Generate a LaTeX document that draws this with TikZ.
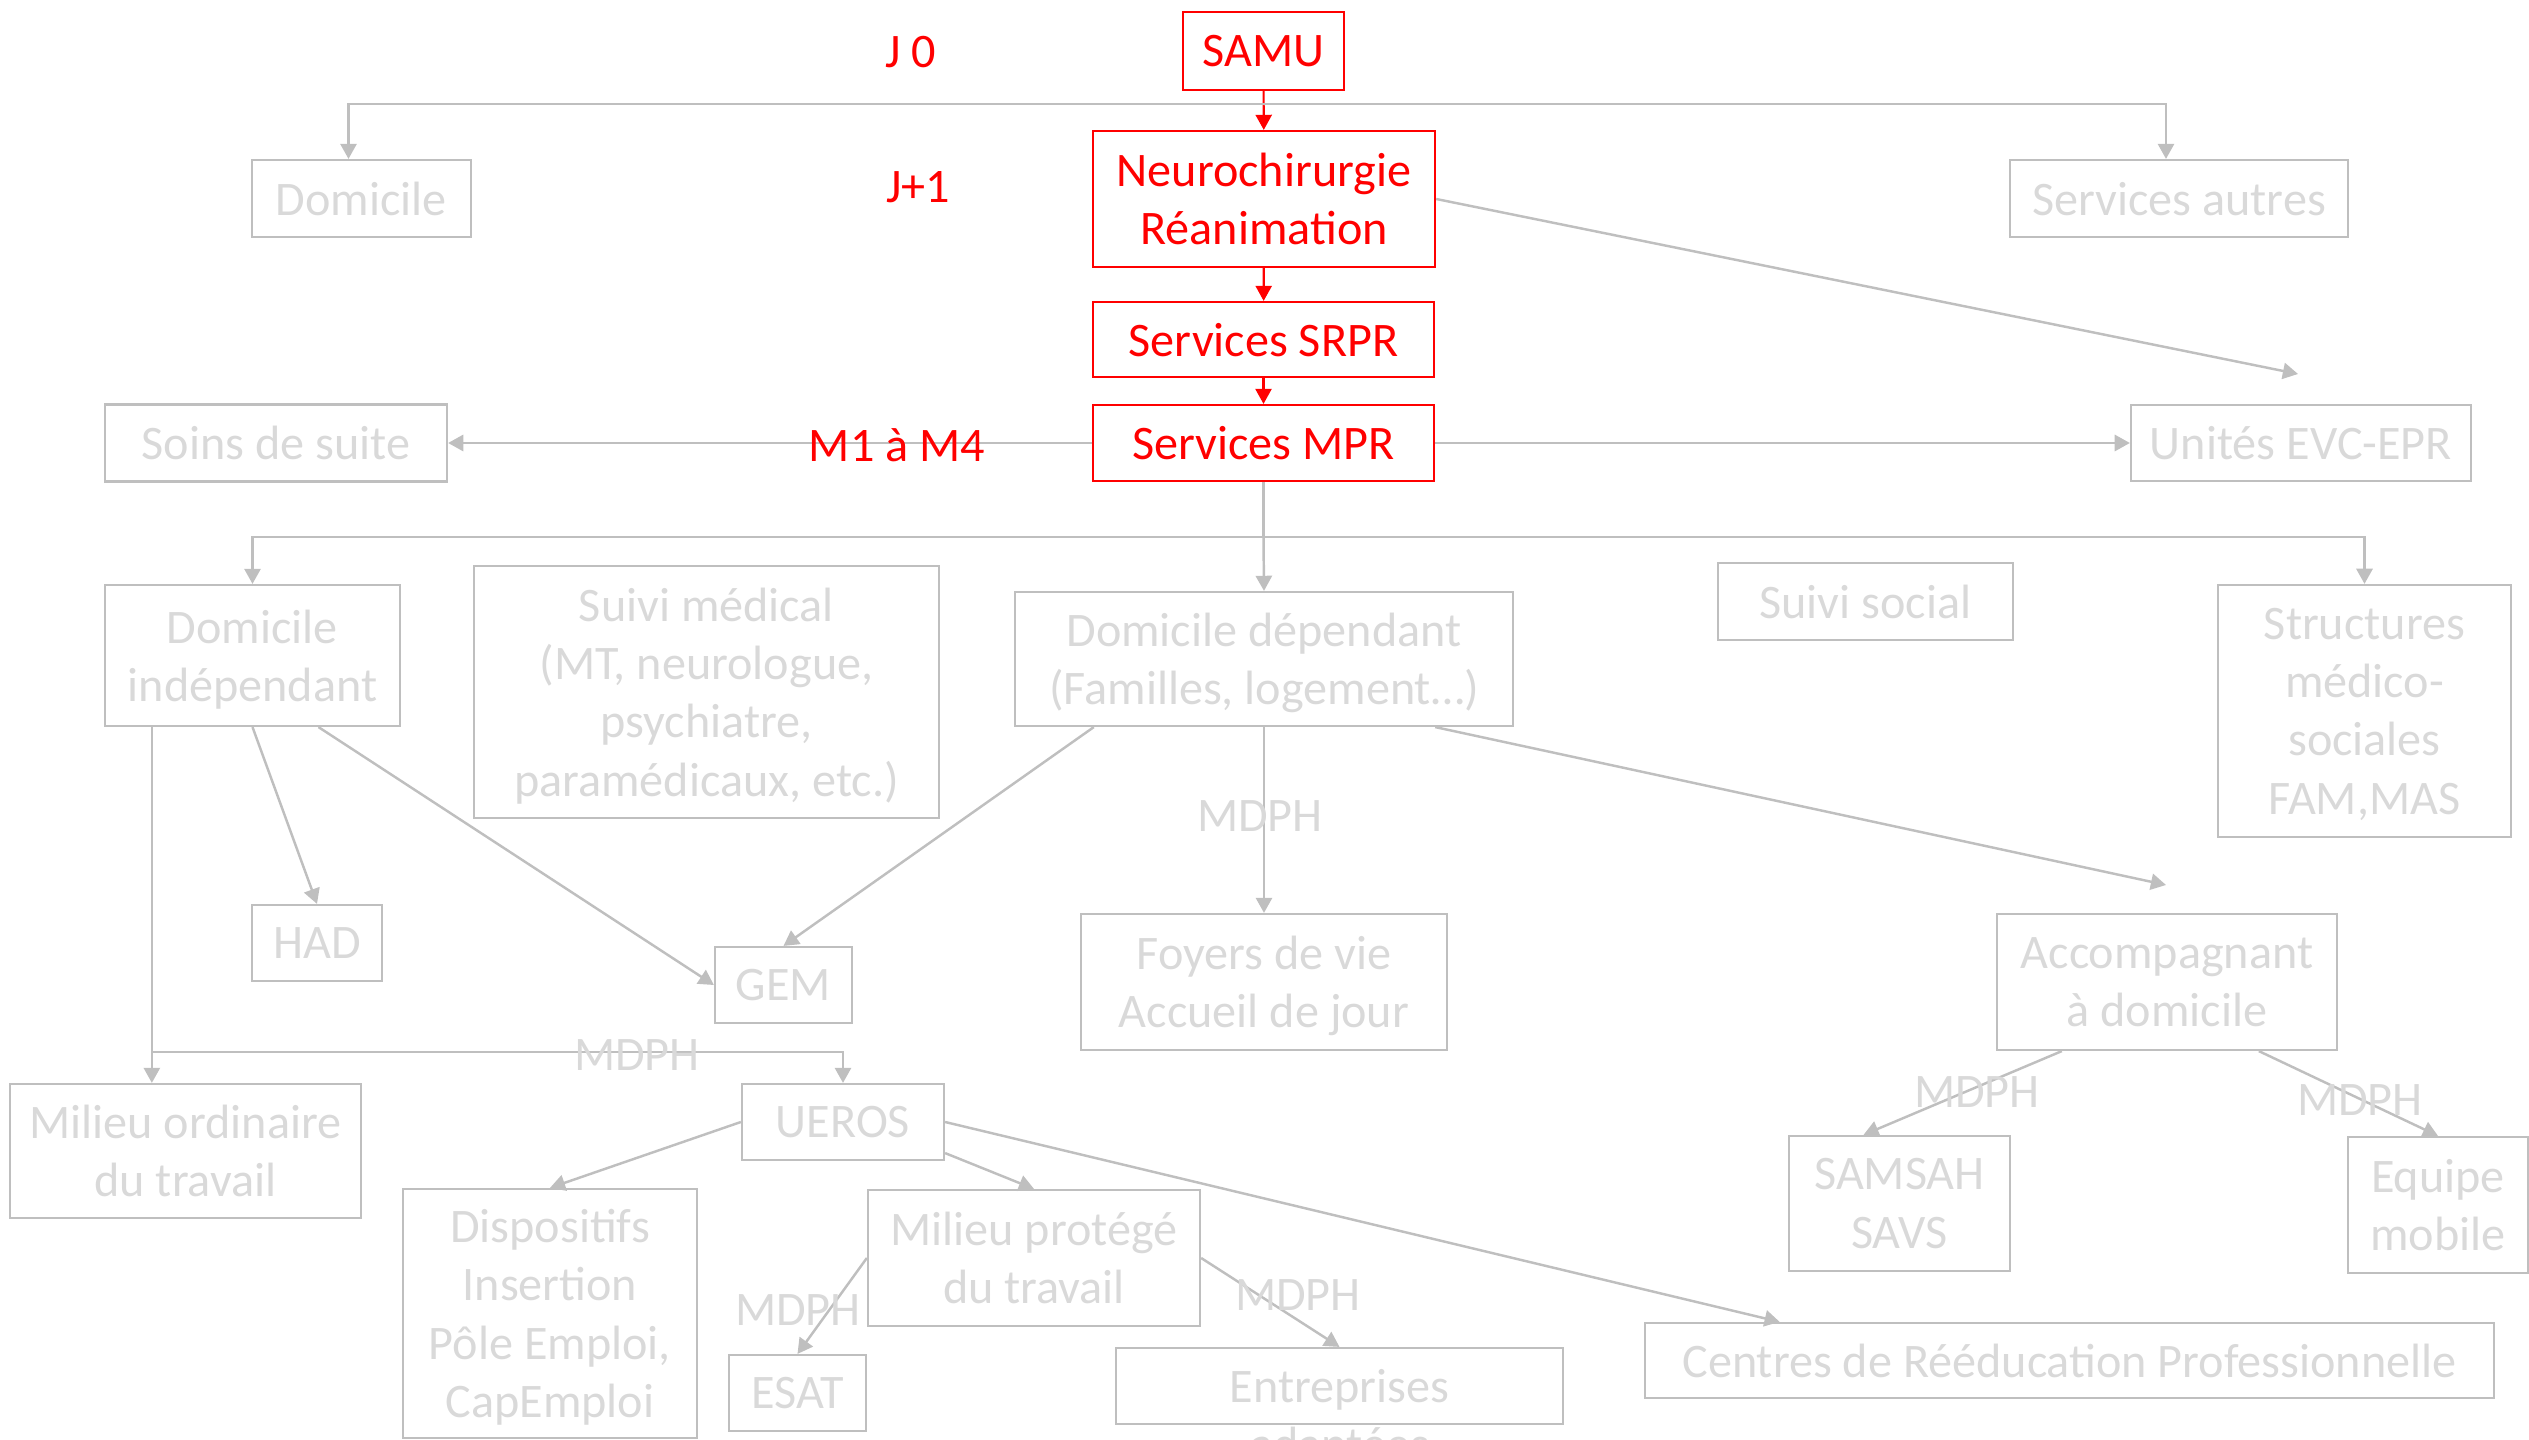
\documentclass[tikz,border=0pt]{standalone}
\usepackage{fontspec}
\setmainfont{Carlito}
\usetikzlibrary{arrows.meta,calc}
\definecolor{boxgray}{HTML}{BFBFBF}
\definecolor{txtgray}{HTML}{D9D9D9}
\definecolor{redtxt}{HTML}{FF0000}

\begin{document}
\begin{tikzpicture}[x=0.01cm, y=-0.01cm,
    every node/.style={font=\fontsize{13.7}{16.6}\selectfont, align=center, inner sep=0pt},
    rbox/.style={draw=redtxt, line width=0.6pt, text=redtxt, text depth=0pt},
    gbox/.style={draw=boxgray, line width=0.6pt, text=txtgray, text depth=0pt},
    rlab/.style={text=redtxt},
    glab/.style={text=txtgray},
    rarr/.style={redtxt, line width=0.6pt, -{Triangle[length=4.3pt,width=4.6pt]}},
    garr/.style={boxgray, line width=0.7pt, -{Triangle[length=4.3pt,width=4.6pt]}},
    gline/.style={boxgray, line width=0.7pt}]
  \useasboundingbox (0,0) rectangle (2529,1440);

  % acute care (red)
  \node[rbox, minimum width=1.61cm, minimum height=0.78cm] (samu) at (1263.5,51) {SAMU};
  \node[rbox, minimum width=3.42cm, minimum height=1.36cm] (neuro) at (1264,199) {Neurochirurgie\\Réanimation};
  \node[rbox, minimum width=3.41cm, minimum height=0.75cm] (srpr) at (1263.5,339.5) {Services SRPR};
  \node[rbox, minimum width=3.41cm, minimum height=0.76cm] (mpr) at (1263.5,443) {Services MPR};

  % gray boxes
  \node[gbox, minimum width=2.19cm, minimum height=0.77cm] (domicile) at (361.5,198.5) {Domicile};
  \node[gbox, minimum width=3.38cm, minimum height=0.77cm] (autres) at (2179,198.5) {Services autres};
  \node[gbox, minimum width=3.42cm, minimum height=0.77cm] (soins) at (276,443) {Soins de suite};
  \node[gbox, minimum width=3.40cm, minimum height=0.76cm] (evc) at (2301,443) {Unités EVC-EPR};
  \node[gbox, minimum width=2.95cm, minimum height=1.41cm] (domind) at (252.5,655.5) {Domicile\\indépendant};
  \node[gbox, minimum width=4.65cm, minimum height=2.52cm] (suivimed) at (706.5,692) {Suivi médical\\(MT, neurologue,\\psychiatre,\\paramédicaux, etc.)};
  \node[gbox, minimum width=4.98cm, minimum height=1.34cm] (domdep) at (1264,659) {Domicile dépendant\\(Familles, logement…)};
  \node[gbox, minimum width=2.95cm, minimum height=0.77cm] (social) at (1865.5,601.5) {Suivi social};
  \node[gbox, minimum width=2.93cm, minimum height=2.52cm] (structures) at (2364.5,711) {Structures\\médico-\\sociales\\FAM,MAS};
  \node[gbox, minimum width=1.30cm, minimum height=0.76cm] (had) at (317,943) {HAD};
  \node[gbox, minimum width=1.37cm, minimum height=0.76cm] (gem) at (783.5,985) {GEM};
  \node[gbox, minimum width=3.66cm, minimum height=1.36cm] (foyers) at (1264,982) {Foyers de vie\\Accueil de jour};
  \node[gbox, minimum width=3.40cm, minimum height=1.36cm] (accomp) at (2167,982) {Accompagnant\\à domicile};
  \node[gbox, minimum width=3.51cm, minimum height=1.34cm] (milord) at (185.5,1151) {Milieu ordinaire\\du travail};
  \node[gbox, minimum width=2.02cm, minimum height=0.76cm] (ueros) at (843,1122) {UEROS};
  \node[gbox, minimum width=2.94cm, minimum height=2.49cm] (dispo) at (550,1313.5) {Dispositifs\\Insertion\\Pôle Emploi,\\CapEmploi};
  \node[gbox, minimum width=3.32cm, minimum height=1.36cm] (milprot) at (1034,1258) {Milieu protégé\\du travail};
  \node[gbox, minimum width=1.37cm, minimum height=0.76cm] (esat) at (797.5,1393) {ESAT};
  \node[gbox, minimum width=4.47cm, minimum height=0.76cm] (entr) at (1339.5,1386) {Entreprises};
  \node[glab, anchor=base] (entr2) at ($(entr.base)+(0,58)$) {adaptées};
  \node[gbox, minimum width=8.49cm, minimum height=0.75cm] (centres) at (2069.5,1360.5) {Centres de Rééducation Professionnelle};
  \node[gbox, minimum width=2.21cm, minimum height=1.35cm] (samsah) at (1899.5,1203.5) {SAMSAH\\SAVS};
  \node[gbox, minimum width=1.80cm, minimum height=1.36cm] (equipe) at (2438,1205) {Equipe\\mobile};

  % connectors
  \draw[rarr] (samu) -- (neuro);
  \draw[rarr] (neuro) -- (srpr);
  \draw[rarr] (srpr) -- (mpr);
  \coordinate (split1) at (1263.5,104);
  \draw[garr] (split1) -| ($(domicile.north)+(-13,0)$);
  \draw[garr] (split1) -| ($(autres.north)+(-13,0)$);
  \coordinate (evcin) at (2298,374);
  \draw[garr] (neuro.east) -- (evcin);
  \draw[garr] (mpr.west) -- (soins.east);
  \draw[garr] (mpr.east) -- (evc.west);
  \coordinate (split2) at (1263.5,537);
  \draw[gline] (mpr.south) -- (split2);
  \draw[garr] (split2) -| (domind.north);
  \draw[garr] (split2) -- (domdep.north);
  \draw[garr] (split2) -| (structures.north);
  \coordinate (lvtop) at ($(domind.south west)+(48,0)$);
  \draw[garr] (lvtop) -- (lvtop |- milord.north);
  \coordinate (lvmid) at (lvtop |- 0,1052);
  \draw[garr] (lvmid) -| (ueros.north);
  \draw[garr] (domind.south) -- (had.north);
  \draw[garr] ($(domind.south)+(66,0)$) -- (gem.west);
  \draw[garr] ($(domdep.south west)+(80,0)$) -- (gem.north);
  \draw[garr] (domdep.south) -- (foyers.north);
  \coordinate (accin) at (2166,885);
  \draw[garr] ($(domdep.south east)+(-79,0)$) -- (accin);
  \draw[garr] ($(accomp.south west)+(66,0)$) -- ($(samsah.north)+(-36,0)$);
  \draw[garr] ($(accomp.south west)+(263,0)$) -- (equipe.north);
  \draw[garr] (ueros.west) -- (dispo.north);
  \draw[garr] ($(ueros.south east)+(0,-8)$) -- (milprot.north);
  \draw[garr] (ueros.east) -- ($(centres.north west)+(136,0)$);
  \draw[garr] (milprot.west) -- (esat.north);
  \draw[garr] (milprot.east) -- (entr.north);

  % labels
  \node[rlab] (j0) at (911,52) {J 0};
  \node[rlab] (j1) at (918,187) {J+1};
  \node[rlab] (m1m4) at (897,445) {M1 à M4};
  \node[glab] (mdph1) at (1260,816) {MDPH};
  \node[glab] (mdph2) at (637,1055) {MDPH};
  \node[glab] (mdph3) at (798,1310) {MDPH};
  \node[glab] (mdph4) at (1298,1295) {MDPH};
  \node[glab] (mdph5) at (1977,1092) {MDPH};
  \node[glab] (mdph6) at (2360,1100) {MDPH};
\end{tikzpicture}
\end{document}
